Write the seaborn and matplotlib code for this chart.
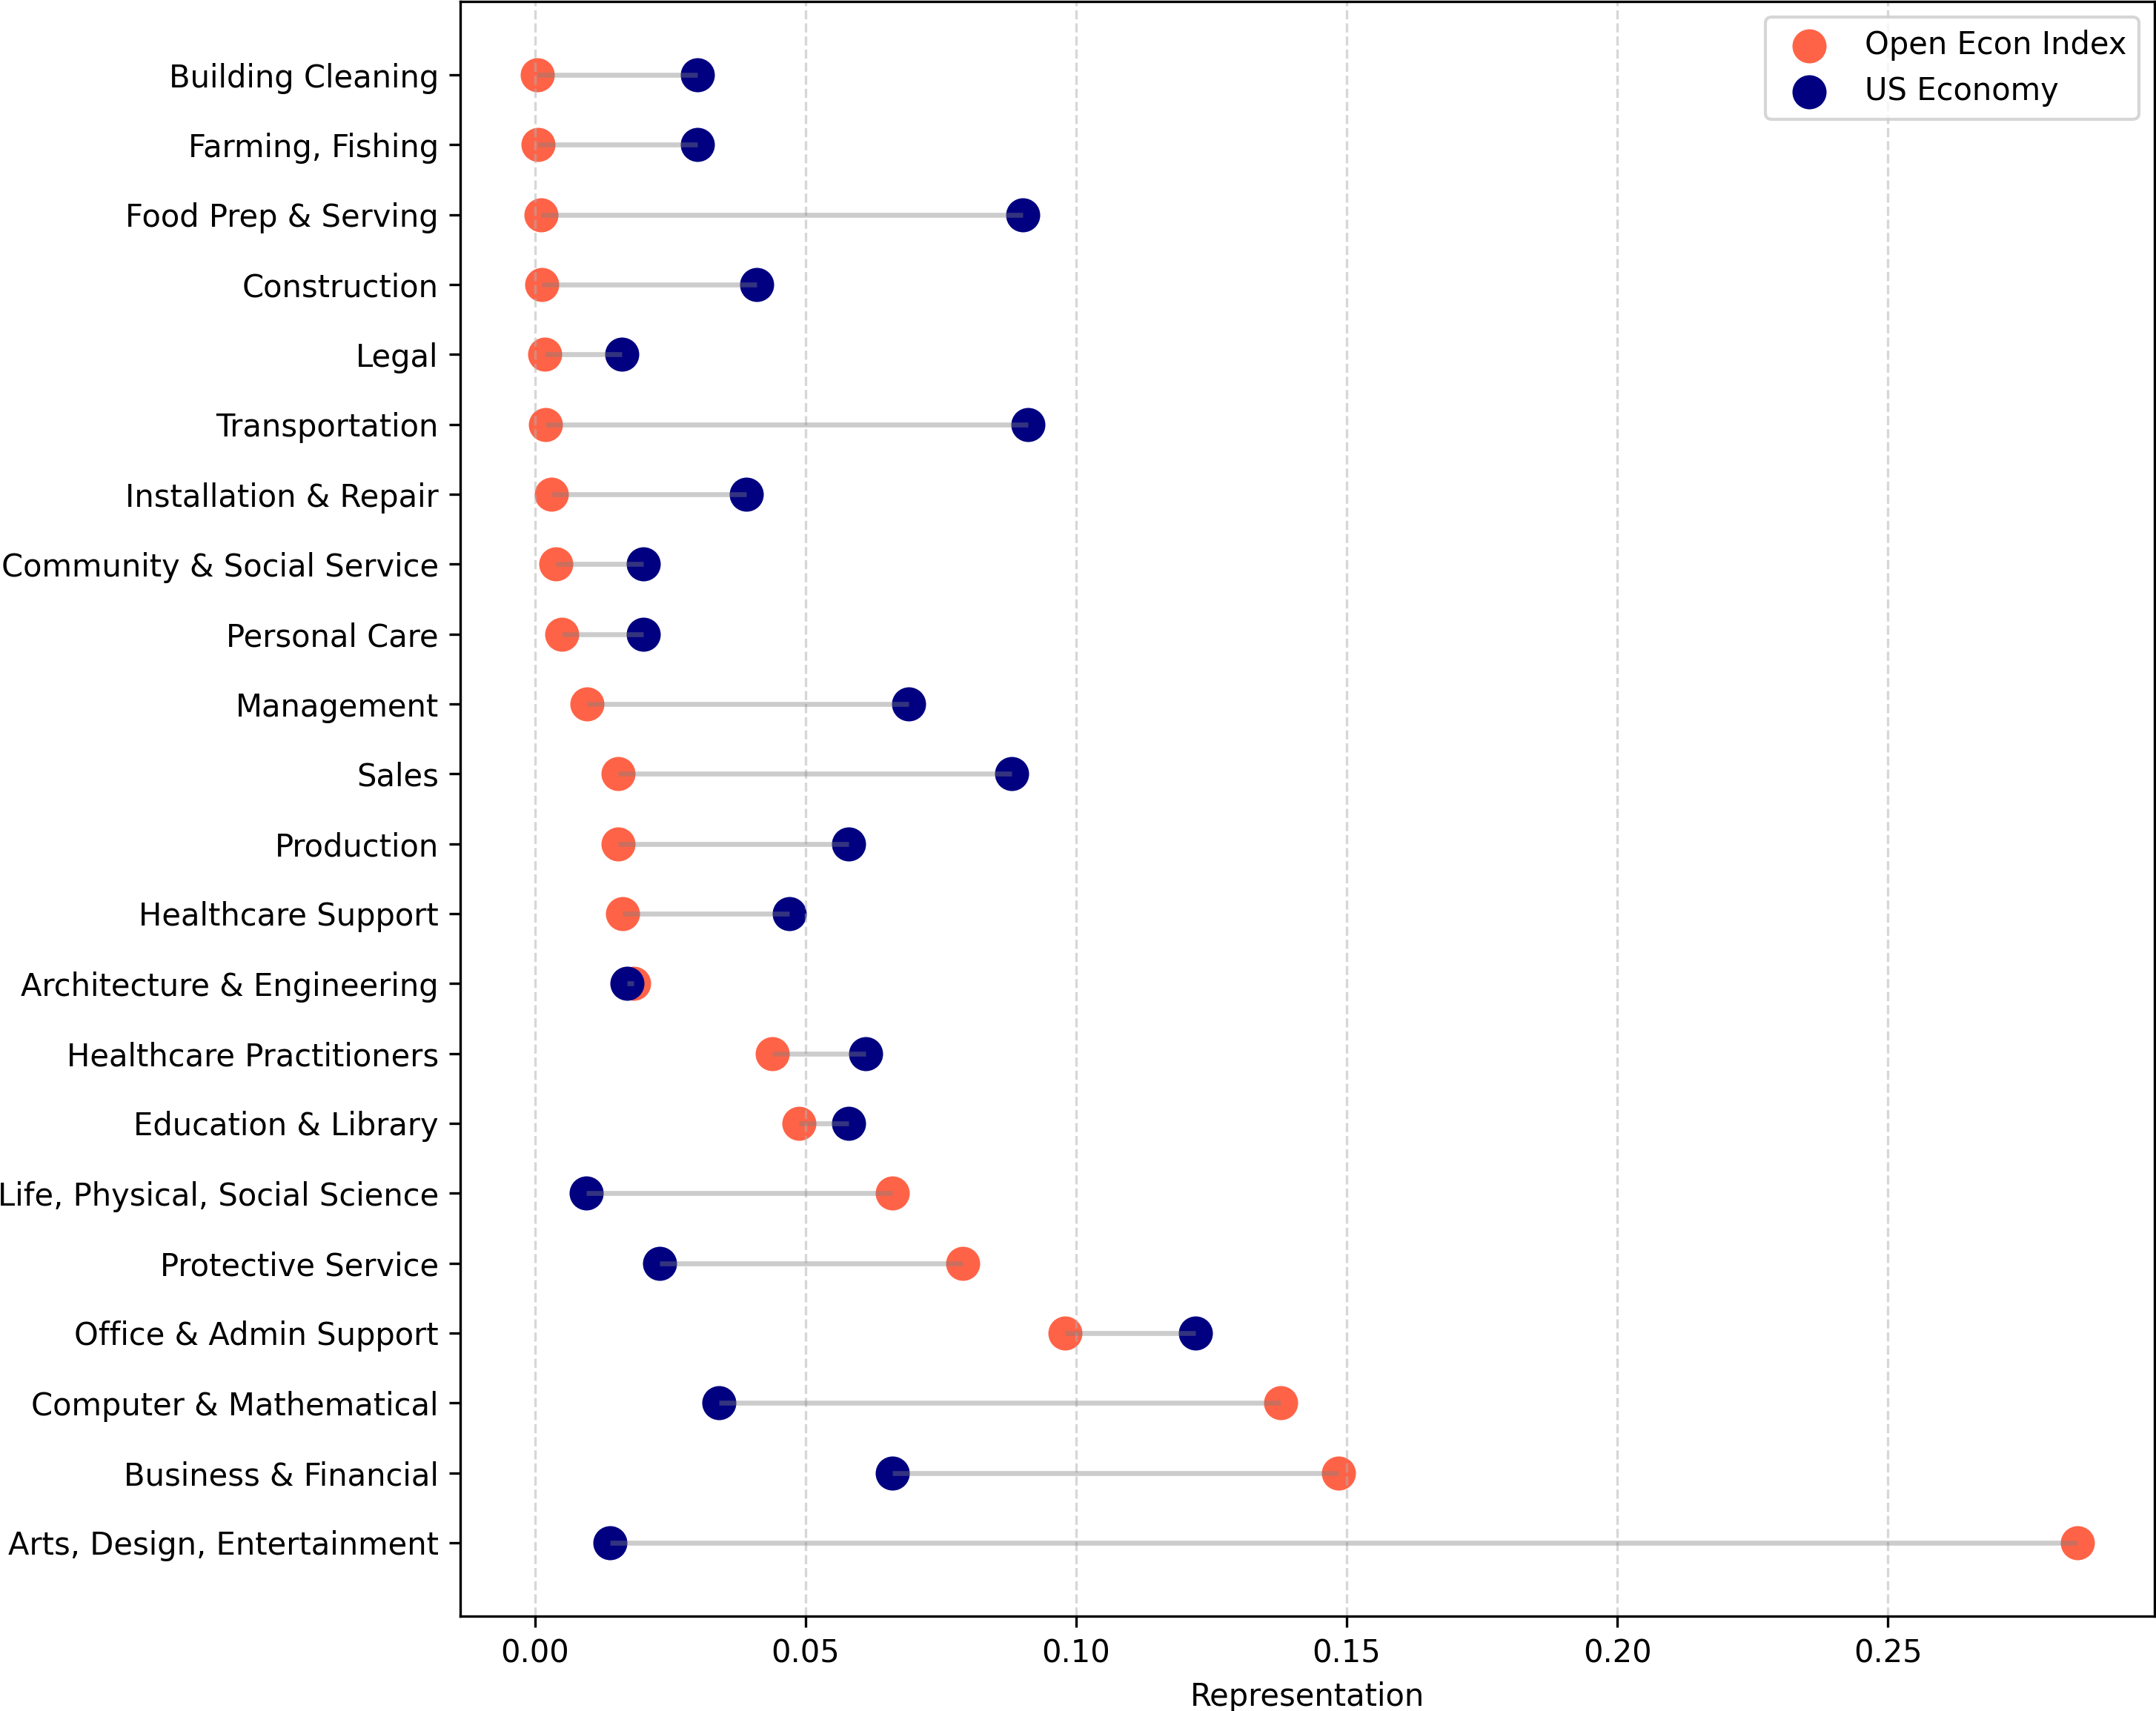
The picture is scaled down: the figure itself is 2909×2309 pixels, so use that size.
import numpy as np
import pandas as pd
import matplotlib
matplotlib.use("Agg")
import matplotlib.pyplot as plt
import seaborn as sns

# Categories listed top to bottom as shown in the chart
categories = [
    "Building Cleaning", "Farming, Fishing", "Food Prep & Serving", "Construction",
    "Legal", "Transportation", "Installation & Repair", "Community & Social Service",
    "Personal Care", "Management", "Sales", "Production", "Healthcare Support",
    "Architecture & Engineering", "Healthcare Practitioners", "Education & Library",
    "Life, Physical, Social Science", "Protective Service", "Office & Admin Support",
    "Computer & Mathematical", "Business & Financial", "Arts, Design, Entertainment",
]
open_econ_index = [
    0.0004, 0.0006, 0.0011, 0.0012, 0.0018, 0.0019, 0.0030, 0.0038,
    0.0050, 0.0096, 0.0154, 0.0154, 0.0162, 0.0182, 0.0439, 0.0487,
    0.0660, 0.0790, 0.0980, 0.1378, 0.1485, 0.2850,
]
us_economy = [
    0.0300, 0.0300, 0.0901, 0.0410, 0.0160, 0.0911, 0.0390, 0.0200,
    0.0200, 0.0690, 0.0881, 0.0580, 0.0470, 0.0170, 0.0611, 0.0580,
    0.0094, 0.0230, 0.1220, 0.0340, 0.0660, 0.0139,
]
series_labels = ["Open Econ Index", "US Economy"]
series_colors = ["tomato", "navy"]

df = pd.DataFrame({
    "Occupation": categories,
    "open": open_econ_index,
    "us": us_economy,
})

fig = plt.figure(figsize=(2909 / 300, 2309 / 300), dpi=300)
ax = fig.add_axes([621 / 2909, 1 - 2181 / 2309, (2906.5 - 621) / 2909, (2181 - 2) / 2309])

sns.scatterplot(data=df, x="open", y="Occupation", color=series_colors[0], s=122,
                linewidth=0, label=series_labels[0], ax=ax, legend=False)
sns.scatterplot(data=df, x="us", y="Occupation", color=series_colors[1], s=122,
                linewidth=0, label=series_labels[1], ax=ax, legend=False)
ax.hlines(y=df["Occupation"], xmin=df["open"], xmax=df["us"], color="gray",
          alpha=0.4, linewidth=1.6, zorder=2)

ax.grid(axis="x", linestyle="--", alpha=0.5)
ax.set_xlabel("Representation")
ax.set_ylabel("")
ax.legend(loc="upper right")

fig.savefig("out.png", dpi=300)
